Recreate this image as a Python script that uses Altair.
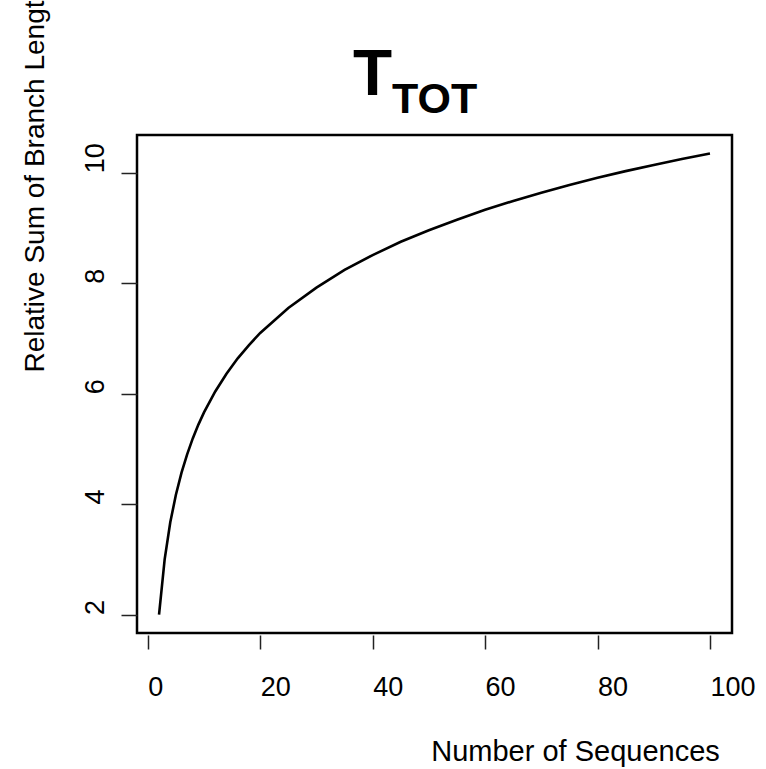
import altair as alt
import pandas as pd

# values
n_sequences = [2, 3, 4, 5, 6, 7, 8, 9, 10, 12, 14, 16, 18, 20, 25, 30, 35, 40,
               45, 50, 55, 60, 65, 70, 75, 80, 85, 90, 95, 100]
rel_sum = [2.00, 3.00, 3.67, 4.17, 4.57, 4.90, 5.19, 5.44, 5.66, 6.04, 6.36,
           6.64, 6.88, 7.10, 7.55, 7.92, 8.24, 8.51, 8.75, 8.96, 9.15, 9.33,
           9.49, 9.64, 9.78, 9.91, 10.03, 10.14, 10.25, 10.35]
x_ticks = [0, 20, 40, 60, 80, 100]
y_ticks = [2, 4, 6, 8, 10]

title_main = "T"
title_sub = "TOT"
x_title = "Number of Sequences"
y_title = "Relative Sum of Branch Lengths"

df = pd.DataFrame({"n": n_sequences, "t": rel_sum})
FONT = "Liberation Sans"

W, H = 595, 498
PAD_L, PAD_T = 137, 135

line = alt.Chart(df).mark_line(color="black", strokeWidth=2.6).encode(
    x=alt.X("n:Q",
            scale=alt.Scale(domain=[-1.92, 103.92], nice=False, zero=False),
            axis=alt.Axis(values=x_ticks, title=x_title, domain=False, grid=False,
                          offset=2, tickSize=14, tickColor="#222", tickWidth=1.5,
                          labelFont=FONT, labelFontSize=27, labelColor="black",
                          labelAlign="left", labelBaseline="alphabetic",
                          labelPadding=46, labelFlush=False,
                          titleFont=FONT, titleFontSize=29, titleFontWeight="normal",
                          titleColor="black", titleAlign="center",
                          titleBaseline="alphabetic", titleX=438, titleY=125)),
    y=alt.Y("t:Q",
            scale=alt.Scale(domain=[1.666, 10.684], nice=False, zero=False),
            axis=alt.Axis(values=y_ticks, title=y_title, domain=False, grid=False,
                          offset=0, tickSize=16, tickColor="#222", tickWidth=1.5,
                          labelFont=FONT, labelFontSize=27, labelColor="black",
                          labelAngle=-90, labelAlign="left",
                          labelBaseline="alphabetic", labelPadding=18,
                          labelFlush=False,
                          titleFont=FONT, titleFontSize=28, titleFontWeight="normal",
                          titleColor="black", titleAngle=-90, titleAlign="left",
                          titleBaseline="alphabetic", titleX=-94, titleY=237)),
)

tdf = pd.DataFrame({"a": [title_main], "b": [title_sub]})
t_main = alt.Chart(tdf).mark_text(font=FONT, fontSize=64, fontWeight="bold",
                                  align="left", baseline="alphabetic",
                                  color="black").encode(
    text="a:N", x=alt.value(216), y=alt.value(-40))
t_sub = alt.Chart(tdf).mark_text(font=FONT, fontSize=43, fontWeight="bold",
                                 align="left", baseline="alphabetic",
                                 color="black").encode(
    text="b:N", x=alt.value(255), y=alt.value(-22))

chart = alt.layer(line, t_main, t_sub).properties(
    width=W, height=H,
    background="white",
    autosize=alt.AutoSizeParams(type="none"),
    padding={"left": PAD_L, "top": PAD_T, "right": 766 - PAD_L - W,
             "bottom": 769 - PAD_T - H},
).configure_view(stroke="black", strokeWidth=2.5)

chart.save("out.html", embed_options={"renderer": "svg", "actions": False})
